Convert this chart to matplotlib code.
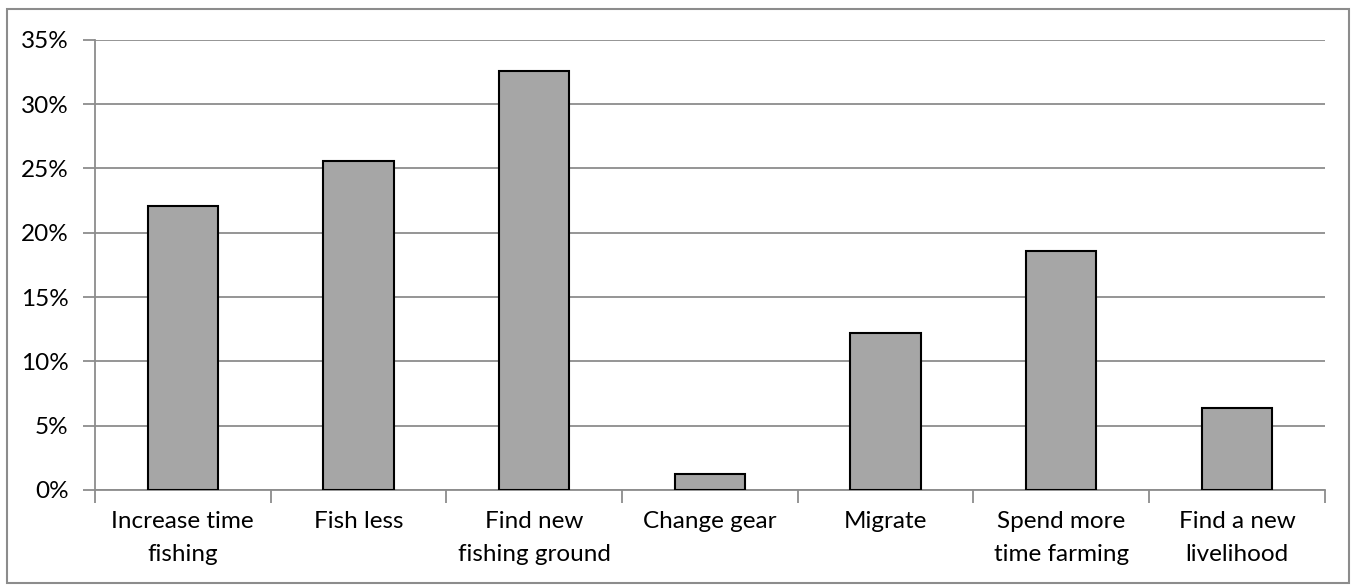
import matplotlib.pyplot as plt
from matplotlib.ticker import FuncFormatter, FixedLocator
import numpy as np

plt.rcParams['font.family'] = ['Lato', 'DejaVu Sans']

categories = ["Increase time\nfishing", "Fish less", "Find new\nfishing ground",
              "Change gear", "Migrate", "Spend more\ntime farming", "Find a new\nlivelihood"]
values = [22.1, 25.6, 32.6, 1.2, 12.2, 18.6, 6.4]

fig = plt.figure(figsize=(13.56, 5.86), dpi=100)
ax = fig.add_axes([0.070, 0.164, 0.907, 0.768])

x = np.arange(len(categories))
ax.bar(x, values, width=0.40, color="#a6a6a6", edgecolor="black", linewidth=1.5, zorder=3)

ax.set_xlim(-0.5, len(categories) - 0.5)
ax.set_ylim(0, 35)
ax.set_yticks(np.arange(0, 36, 5))
ax.yaxis.set_major_formatter(FuncFormatter(lambda v, p: f"{v:.0f}%"))
ax.grid(axis="y", color="#8c8c8c", linewidth=1.3, zorder=0)

# category boundaries get tick marks, labels sit between them
ax.xaxis.set_major_locator(FixedLocator(np.arange(-0.5, len(categories), 1.0)))
ax.xaxis.set_major_formatter(FuncFormatter(lambda v, p: ""))
ax.xaxis.set_minor_locator(FixedLocator(x))
ax.set_xticklabels(categories, minor=True, linespacing=1.75)
ax.tick_params(axis="x", which="major", length=9, color="#8c8c8c", width=1.3)
ax.tick_params(axis="x", which="minor", length=0, pad=15, labelsize=17.5)
ax.tick_params(axis="y", length=9, color="#8c8c8c", width=1.3, labelsize=17.5, pad=10)

for s in ["top", "right"]:
    ax.spines[s].set_visible(False)
for s in ["left", "bottom"]:
    ax.spines[s].set_color("#8c8c8c")
    ax.spines[s].set_linewidth(1.3)

# outer chart border
fig.patches.append(plt.Rectangle((0.005, 0.005), 0.99, 0.98, transform=fig.transFigure,
                                 fill=False, edgecolor="#8c8c8c", linewidth=1.5))

fig.savefig("out.png", dpi=100)
